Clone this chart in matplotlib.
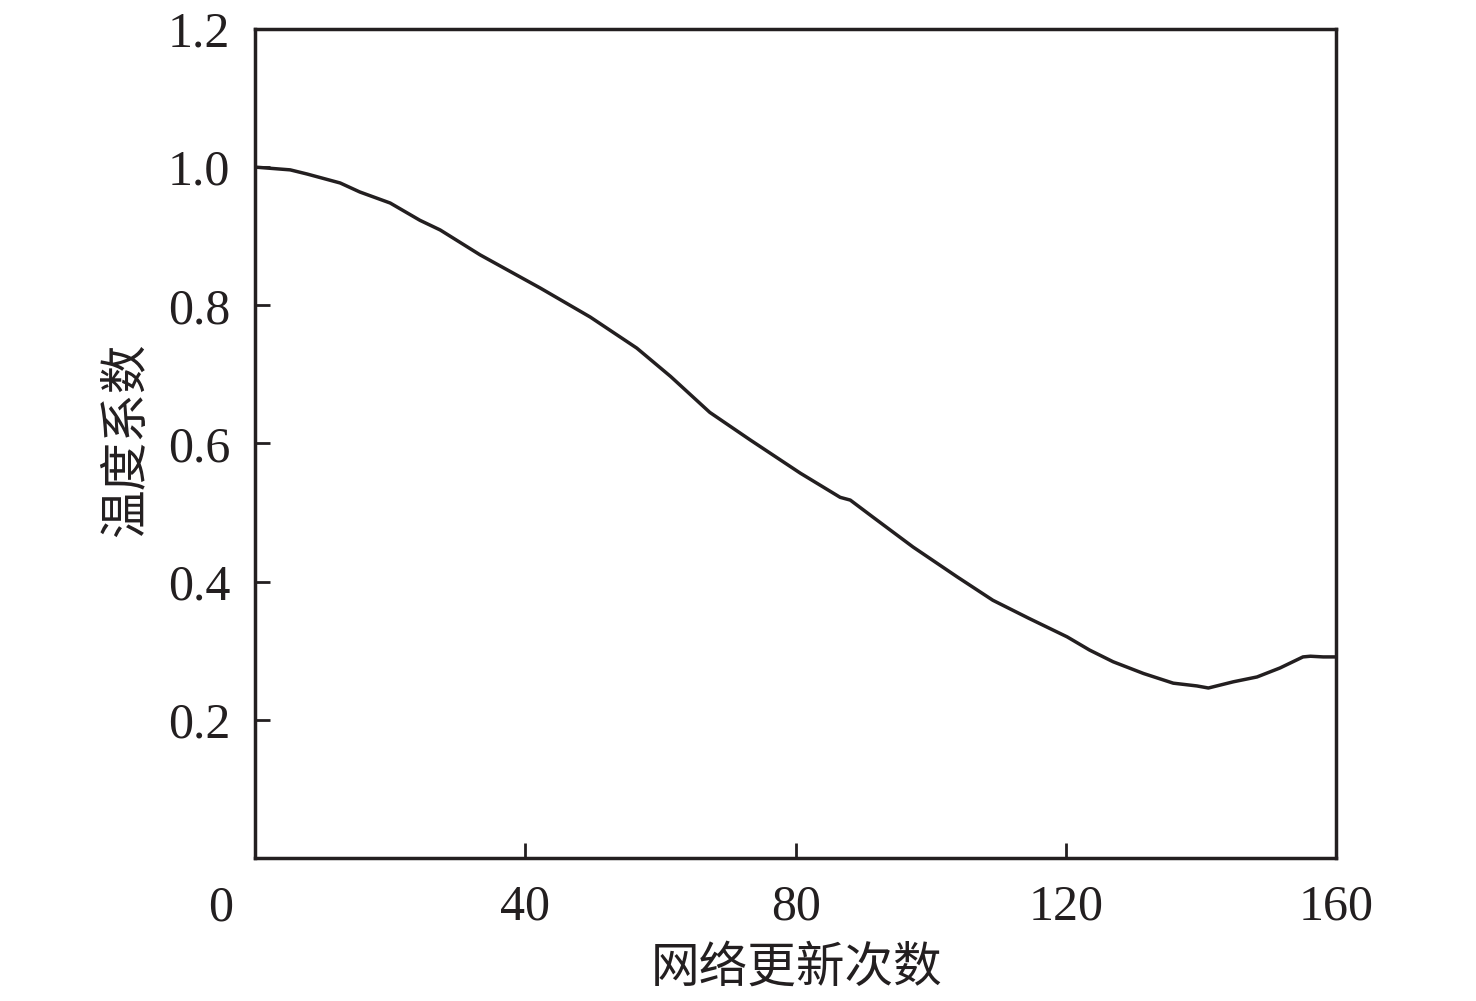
import matplotlib.pyplot as plt

# values
updates = [0, 5.2, 7.7, 12.6, 15.5, 20, 24.4, 27.4, 33.3, 42.2, 49.6, 56.5,
           61.5, 67.3, 73.3, 80.7, 86.6, 88.1, 91.5, 97.4, 103.9, 109.2,
           114.5, 120.2, 123.5, 127, 131.5, 135.9, 139.4, 141.1, 144.8,
           148.3, 151.7, 155.1, 156.2, 158.1, 160]
temp_coef = [1.0, 0.996, 0.990, 0.977, 0.964, 0.948, 0.923, 0.909, 0.873,
             0.825, 0.783, 0.738, 0.697, 0.645, 0.605, 0.557, 0.522, 0.518,
             0.493, 0.450, 0.407, 0.373, 0.347, 0.320, 0.301, 0.284, 0.267,
             0.253, 0.249, 0.246, 0.255, 0.262, 0.275, 0.291, 0.292, 0.291,
             0.291]

x_ticks = [0, 40, 80, 120, 160]
x_labels = ["", "40", "80", "120", "160"]
y_ticks = [0.2, 0.4, 0.6, 0.8, 1.0, 1.2]
y_labels = ["0.2", "0.4", "0.6", "0.8", "1.0", "1.2"]

ink = "#231f20"
serif = ["Liberation Serif", "DejaVu Serif"]
cjk = ["Noto Sans CJK SC", "DejaVu Sans"]

fig = plt.figure(figsize=(14.76, 10.01), dpi=100)
ax = fig.add_axes([0.1728, 0.1429, 0.7324, 0.8282])

ax.plot(updates, temp_coef, color=ink, linewidth=2.5)

ax.set_xlim(0, 160)
ax.set_ylim(0, 1.2)
ax.set_xticks(x_ticks)
ax.set_xticklabels(x_labels, fontfamily=serif, fontsize=36, color=ink)
ax.set_yticks(y_ticks)
ax.set_yticklabels(y_labels, fontfamily=serif, fontsize=36, color=ink)
ax.tick_params(direction="in", length=11, width=2, color=ink, pad=18,
               top=False, right=False)
ax.tick_params(axis="x", pad=19)

for s in ax.spines.values():
    s.set_linewidth(2.5)
    s.set_color(ink)

# shared origin label, set a bit left of the corner
ax.text(-0.032, -0.033, "0", transform=ax.transAxes, ha="center", va="top",
        fontfamily=serif, fontsize=36, color=ink)

ax.set_xlabel("网络更新次数", fontfamily=cjk, fontsize=35, color=ink)
ax.set_ylabel("温度系数", fontfamily=cjk, fontsize=35, color=ink)
ax.xaxis.set_label_coords(0.501, -0.103)
ax.yaxis.set_label_coords(-0.096, 0.504)

plt.savefig("out.png", dpi=100)
